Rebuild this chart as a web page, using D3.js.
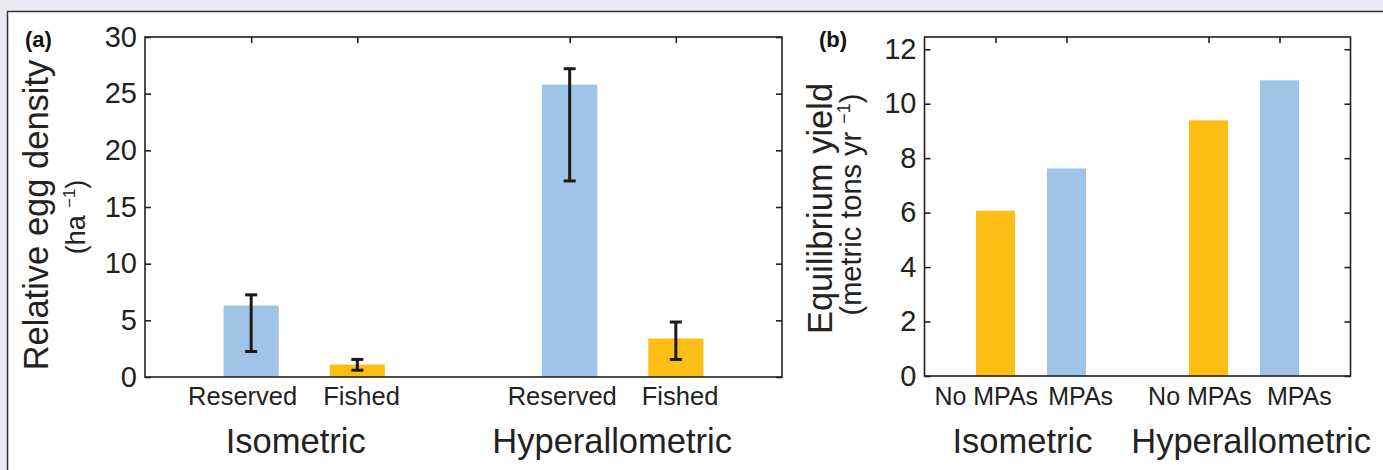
<!DOCTYPE html>
<html>
<head>
<meta charset="utf-8">
<script src="https://cdn.jsdelivr.net/npm/d3@7"></script>
<style>
  body { margin: 0; background: #e9e9f3; }
  svg { display: block; font-family: "Liberation Sans", Arial, sans-serif; }
</style>
</head>
<body>
<div id="chart"></div>
<script>
// chart values
const positions = [1, 2, 4, 5];
const groupNames = ["Isometric", "Hyperallometric"];

const eggCategories = ["Reserved", "Fished", "Reserved", "Fished"];
const eggValues = [6.3, 1.1, 25.8, 3.4];
const eggLow = [2.25, 0.6, 17.3, 1.55];
const eggHigh = [7.25, 1.55, 27.2, 4.85];
const eggTreatment = ["reserve", "fished", "reserve", "fished"];
const eggTicks = [0, 5, 10, 15, 20, 25, 30];

const yieldCategories = ["No MPAs", "MPAs", "No MPAs", "MPAs"];
const yieldValues = [6.07, 7.62, 9.39, 10.86];
const yieldTreatment = ["fished", "reserve", "fished", "reserve"];
const yieldTicks = [0, 2, 4, 6, 8, 10, 12];

const colors = { reserve: "#9fc4e8", fished: "#fdbf16" };
const ink = "#222";

const W = 1383, H = 470;
const svg = d3.select("#chart").append("svg").attr("width", W).attr("height", H);

// white figure panel
svg.append("rect").attr("x", 7.5).attr("y", 11.5).attr("width", W).attr("height", H)
  .attr("fill", "#fff").attr("stroke", "#333").attr("stroke-width", 1.5);

function drawPanel(opt) {
  const x = d3.scaleLinear().domain([0, 6]).range([opt.left, opt.right]);
  const y = d3.scaleLinear().domain([0, opt.ymax]).range([opt.bottom, opt.top]);
  const unit = x(1) - x(0);
  const g = svg.append("g");

  // bars
  g.selectAll("rect.bar").data(opt.values).enter().append("rect")
    .attr("class", "bar")
    .attr("x", (d, i) => x(positions[i]) - opt.barW * unit / 2)
    .attr("width", opt.barW * unit)
    .attr("y", d => y(d))
    .attr("height", d => y(0) - y(d))
    .attr("fill", (d, i) => colors[opt.treatment[i]]);

  // error bars
  if (opt.low) {
    const eb = g.selectAll("g.err").data(opt.low).enter().append("g").attr("class", "err")
      .attr("stroke", "#1a1a1a").attr("stroke-width", 3);
    eb.append("line")
      .attr("x1", (d, i) => x(positions[i])).attr("x2", (d, i) => x(positions[i]))
      .attr("y1", d => y(d)).attr("y2", (d, i) => y(opt.high[i]));
    eb.append("line")
      .attr("x1", (d, i) => x(positions[i]) - 6).attr("x2", (d, i) => x(positions[i]) + 6)
      .attr("y1", d => y(d)).attr("y2", d => y(d));
    eb.append("line")
      .attr("x1", (d, i) => x(positions[i]) - 6).attr("x2", (d, i) => x(positions[i]) + 6)
      .attr("y1", (d, i) => y(opt.high[i])).attr("y2", (d, i) => y(opt.high[i]));
  }

  // axes box
  g.append("rect")
    .attr("x", opt.left).attr("y", y(opt.ymax))
    .attr("width", opt.right - opt.left).attr("height", y(0) - y(opt.ymax))
    .attr("fill", "none").attr("stroke", ink).attr("stroke-width", 1.6);

  const left = g.append("g").attr("transform", `translate(${opt.left},0)`)
    .call(d3.axisLeft(y).tickValues(opt.ticks).tickSizeInner(-6).tickSizeOuter(0).tickPadding(8));
  left.select(".domain").remove();
  left.selectAll("line").attr("stroke", ink).attr("stroke-width", 1.6);
  left.selectAll("text").attr("font-size", 29).attr("fill", ink)
    .attr("font-family", "Liberation Sans, Arial, sans-serif");

  const right = g.append("g").attr("transform", `translate(${opt.right},0)`)
    .call(d3.axisRight(y).tickValues(opt.ticks).tickSizeInner(-6).tickSizeOuter(0).tickFormat(""));
  right.select(".domain").remove();
  right.selectAll("line").attr("stroke", ink).attr("stroke-width", 1.6);

  const top = g.append("g").attr("transform", `translate(0,${y(opt.ymax)})`)
    .call(d3.axisTop(x).tickValues(positions).tickSizeInner(-6).tickSizeOuter(0).tickFormat(""));
  top.select(".domain").remove();
  top.selectAll("line").attr("stroke", ink).attr("stroke-width", 1.6);

  // category labels, placed as in the source figure
  g.selectAll("text.cat").data(opt.categories).enter().append("text")
    .attr("class", "cat")
    .attr("x", (d, i) => x(opt.labelPos[i]))
    .attr("y", 405)
    .attr("text-anchor", "middle")
    .attr("font-size", opt.catSize).attr("fill", ink)
    .text(d => d);

  // group labels
  g.selectAll("text.group").data(groupNames).enter().append("text")
    .attr("class", "group")
    .attr("x", (d, i) => x(opt.groupX[i]))
    .attr("y", 453)
    .attr("text-anchor", "middle")
    .attr("font-size", 34.5).attr("fill", ink)
    .text(d => d);

  // y labels
  const midY = (opt.top + opt.bottom) / 2;
  g.append("text")
    .attr("transform", `translate(${opt.labelX},${midY + opt.labelShift}) rotate(-90)`)
    .attr("text-anchor", "middle").attr("font-size", 34.5).attr("fill", ink)
    .text(opt.ylabel);
  const sub = g.append("text")
    .attr("transform", `translate(${opt.subX},${midY + opt.subShift}) rotate(-90)`)
    .attr("text-anchor", "middle").attr("font-size", opt.subSize).attr("fill", ink);
  sub.append("tspan").text(opt.unitText + " ");
  sub.append("tspan").attr("font-size", opt.subSize * 0.62).attr("dy", -opt.subSize * 0.38).text("\u22121");
  sub.append("tspan").attr("dy", opt.subSize * 0.38).text(")");

  // panel letter
  g.append("text").attr("x", opt.letterX).attr("y", 47)
    .attr("font-size", 22).attr("font-weight", "bold").attr("fill", "#111")
    .text(opt.letter);
}

drawPanel({
  left: 145, right: 782, top: 37, bottom: 377, ymax: 30, barW: 0.52,
  values: eggValues, low: eggLow, high: eggHigh, treatment: eggTreatment,
  ticks: eggTicks, categories: eggCategories, labelPos: [0.92, 2.04, 3.93, 5.04], catSize: 25.5,
  groupX: [1.42, 4.4],
  ylabel: "Relative egg density", labelX: 48, labelShift: 8,
  unitText: "(ha", subX: 85, subShift: 10, subSize: 27,
  letter: "(a)", letterX: 25
});

drawPanel({
  left: 924.5, right: 1350.5, top: 37, bottom: 376, ymax: 12.45, barW: 0.55,
  values: yieldValues, treatment: yieldTreatment,
  ticks: yieldTicks, categories: yieldCategories, labelPos: [0.87, 2.2, 3.88, 5.28], catSize: 25,
  groupX: [1.38, 4.6],
  ylabel: "Equilibrium yield", labelX: 832, labelShift: 2,
  unitText: "(metric tons yr", subX: 861, subShift: -2, subSize: 29,
  letter: "(b)", letterX: 819
});
</script>
</body>
</html>
